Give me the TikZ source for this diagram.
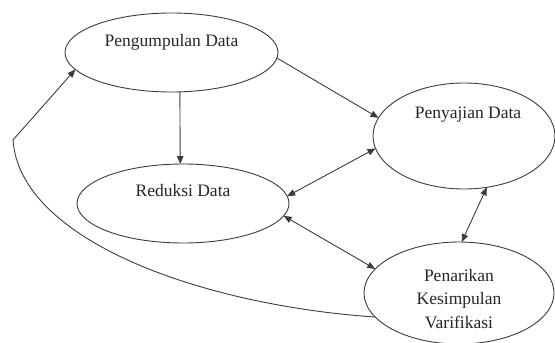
\documentclass[tikz,border=0pt]{standalone}
\usepackage{fontspec}
\setmainfont{Liberation Serif}
\usetikzlibrary{arrows.meta, shapes.geometric, calc}
\definecolor{garis}{HTML}{3C3C3C}
\definecolor{tinta}{HTML}{262626}
\tikzset{
  proses/.style={
    ellipse, draw=garis, fill=white, line width=0.9pt,
    inner sep=0pt, outer sep=0pt
  },
  teks/.style={font=\fontsize{17.5}{23.5}\selectfont, text=tinta, align=center, inner sep=0pt},
  panah/.style={-{Triangle[length=8pt,width=6.5pt]}, line width=0.9pt, draw=garis},
  panahdua/.style={panah, {Triangle[length=8pt,width=6.5pt]}-{Triangle[length=8pt,width=6.5pt]}},
}

\begin{document}
\begin{tikzpicture}[x=1pt, y=-1pt]
  \useasboundingbox (0,0) rectangle (555,343);

  \node[proses, minimum width=213pt, minimum height=79pt,
    label={[teks, yshift=10pt]center:Pengumpulan Data}] (kumpul) at (171.5,52.5) {};
  \node[proses, minimum width=182pt, minimum height=106pt,
    label={[teks, xshift=4pt, yshift=21pt]center:Penyajian Data}] (saji) at (464,136) {};
  \node[proses, minimum width=212pt, minimum height=79pt,
    label={[teks, yshift=12.5pt]center:Reduksi Data}] (reduksi) at (183,203.5) {};
  \node[proses, minimum width=190pt, minimum height=102pt,
    label={[teks, yshift=-6pt]center:Penarikan\\Kesimpulan\\Varifikasi}] (tarik) at (459,293) {};

  \draw[panah] (kumpul.-78) -- (reduksi.94);
  \draw[panah] (kumpul.-3) -- (saji.168);
  \draw[panahdua] (saji.188) -- (reduksi.4);
  \draw[panahdua] (reduksi.-7) -- (tarik.164);
  \draw[panahdua] (saji.-66) -- (tarik.87);

  % balik ke pengumpulan
  \coordinate (belok) at (13,140);
  \draw[panah] (tarik.196) .. controls (200,305) and (20,240) .. (belok) -- (kumpul.190);
\end{tikzpicture}
\end{document}
